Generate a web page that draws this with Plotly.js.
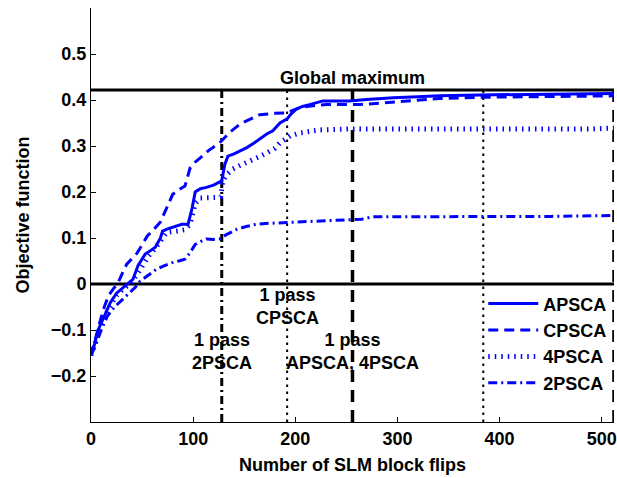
<!DOCTYPE html>
<html>
<head>
<meta charset="utf-8">
<script src="https://cdn.plot.ly/plotly-3.0.1.min.js"></script>
<style>html,body{margin:0;padding:0;background:#fff;}#chart{width:617px;height:478px;}</style>
</head>
<body>
<div id="chart"></div>
<script>
// ---- data ----
const apscaX = [0,3,7,12,19,25,30,36,41,46,50,53,58,63,68,70,75,82,89,95,99,102,107,113,120,126,128,131,134,140,146,153,160,166,172,178,185,192,196,201,207,214,221,227,240,253,270,296,320,341,380,420,460,512];
const apscaY = [-0.155,-0.135,-0.10,-0.075,-0.04,-0.02,-0.01,0.0,0.01,0.04,0.055,0.065,0.072,0.08,0.10,0.115,0.12,0.125,0.13,0.13,0.165,0.2,0.207,0.21,0.215,0.222,0.225,0.26,0.278,0.283,0.289,0.297,0.307,0.316,0.326,0.333,0.35,0.359,0.37,0.38,0.386,0.39,0.395,0.398,0.398,0.398,0.401,0.405,0.407,0.409,0.411,0.412,0.413,0.414];

const cpscaX = [0,4,9,13,17,22,26,30,35,40,45,50,55,62,68,72,76,80,86,92,97,102,107,115,126,136,146,155,165,180,192,198,204,215,231,263,290,315,341,381,440,512];
const cpscaY = [-0.155,-0.12,-0.08,-0.05,-0.026,-0.01,0.0,0.02,0.043,0.055,0.067,0.085,0.104,0.12,0.135,0.155,0.175,0.195,0.205,0.213,0.252,0.265,0.274,0.29,0.307,0.33,0.348,0.358,0.368,0.371,0.372,0.378,0.383,0.387,0.39,0.39,0.394,0.399,0.403,0.406,0.408,0.409];

const psca4X = [0,5,10,18,25,32,38,45,50,56,62,68,74,84,92,97,102,107,115,123,127,129,134,139,147,156,165,172,180,185,190,195,204,214,224,253,300,341,400,460,490,512];
const psca4Y = [-0.155,-0.125,-0.09,-0.05,-0.025,-0.01,0.0,0.02,0.04,0.06,0.075,0.095,0.112,0.115,0.118,0.13,0.175,0.187,0.187,0.188,0.19,0.225,0.24,0.25,0.259,0.267,0.277,0.285,0.295,0.307,0.315,0.322,0.328,0.332,0.335,0.337,0.337,0.337,0.336,0.336,0.337,0.339];

const psca2X = [0,5,10,16,23,30,36,43,48,54,59,64,72,79,86,92,97,102,108,113,120,126,133,138,143,152,162,175,185,200,230,253,265,276,296,384,450,512];
const psca2Y = [-0.155,-0.13,-0.10,-0.07,-0.05,-0.035,-0.023,-0.008,0.006,0.016,0.024,0.032,0.04,0.046,0.05,0.054,0.068,0.086,0.093,0.098,0.097,0.098,0.108,0.114,0.119,0.125,0.13,0.132,0.133,0.134,0.137,0.14,0.141,0.146,0.146,0.147,0.147,0.149];

const globalMax = 0.422;
const xSpan = [0, 512];
const ySpan = [-0.3, 0.6];
const passFlips = [128, 192, 256, 384, 512];
const passStyles = ['dashdot','dot','dash','dot','dash'];

const xTickVals = [0,100,200,300,400,500];
const yTickVals = [-0.2,-0.1,0,0.1,0.2,0.3,0.4,0.5];
const yTickText = ['\u22120.2','\u22120.1','0','0.1','0.2','0.3','0.4','0.5'];

const seriesNames = ['APSCA','CPSCA','4PSCA','2PSCA'];
// --------------------------------------

const FONT = 'Liberation Sans, Arial, Helvetica, sans-serif';
const BLUE = '#0000ff';

const dashMap = {
  dashdot: {dash: '8px,4px,2px,4px', width: 3},
  dot: {dash: '2.5px,4.5px', width: 2},
  dash: {dash: '12px,8px', width: 3.5}
};

const traces = [];
traces.push({x: xSpan, y: [globalMax, globalMax], mode: 'lines', line: {color: '#000', width: 3}, showlegend: false, hoverinfo: 'skip'});
traces.push({x: xSpan, y: [0, 0], mode: 'lines', line: {color: '#000', width: 3}, showlegend: false, hoverinfo: 'skip'});
passFlips.forEach((f, i) => {
  const st = dashMap[passStyles[i]];
  traces.push({x: [f, f], y: [ySpan[0], globalMax], mode: 'lines', line: {color: '#000', width: st.width, dash: st.dash}, showlegend: false, hoverinfo: 'skip'});
});

traces.push({x: apscaX, y: apscaY, name: seriesNames[0], mode: 'lines', line: {color: BLUE, width: 3}});
traces.push({x: cpscaX, y: cpscaY, name: seriesNames[1], mode: 'lines', line: {color: BLUE, width: 3, dash: '10px,6px'}});
traces.push({x: psca4X, y: psca4Y, name: seriesNames[2], mode: 'lines', line: {color: BLUE, width: 5, dash: '1.5px,5px'}});
traces.push({x: psca2X, y: psca2Y, name: seriesNames[3], mode: 'lines', line: {color: BLUE, width: 3, dash: '9px,4px,2px,4px'}});

const annFont = {family: FONT, size: 18, color: '#000', weight: 'bold'};
const layout = {
  width: 617, height: 478,
  margin: {l: 91, r: 3, t: 8, b: 56},
  paper_bgcolor: '#fff', plot_bgcolor: '#fff',
  font: {family: FONT, size: 18, color: '#000', weight: 'bold'},
  showlegend: true,
  legend: {x: 0.75, y: 0.33, xanchor: 'left', yanchor: 'top', bgcolor: 'rgba(0,0,0,0)', borderwidth: 0,
           font: {family: FONT, size: 18, color: '#000', weight: 'bold'}, itemwidth: 50, tracegroupgap: 0},
  xaxis: {range: xSpan, tickvals: xTickVals, ticks: 'inside', ticklen: 5, tickwidth: 1, tickcolor: '#000',
          showline: true, linecolor: '#000', linewidth: 1, showgrid: false, zeroline: false, mirror: false,
          tickfont: {family: FONT, size: 18, color: '#000', weight: 'bold'},
          title: {text: 'Number of SLM block flips', font: {family: FONT, size: 18, color: '#000', weight: 'bold'}, standoff: 10}},
  yaxis: {range: ySpan, tickvals: yTickVals, ticktext: yTickText, ticks: 'inside', ticklen: 5, tickwidth: 1, tickcolor: '#000',
          showline: true, linecolor: '#000', linewidth: 1, showgrid: false, zeroline: false, mirror: false,
          tickfont: {family: FONT, size: 18, color: '#000', weight: 'bold'},
          title: {text: 'Objective function', font: {family: FONT, size: 18, color: '#000', weight: 'bold'}, standoff: 16}},
  annotations: [
    {x: 256, y: 0.447, xref: 'x', yref: 'y', text: 'Global maximum', showarrow: false, font: annFont, xanchor: 'center', yanchor: 'middle'},
    {x: 192, y: -0.048, xref: 'x', yref: 'y', text: '1 pass<br>CPSCA', showarrow: false, font: annFont, xanchor: 'center', yanchor: 'middle'},
    {x: 128, y: -0.146, xref: 'x', yref: 'y', text: '1 pass<br>2PSCA', showarrow: false, font: annFont, xanchor: 'center', yanchor: 'middle'},
    {x: 256, y: -0.147, xref: 'x', yref: 'y', text: '1 pass<br>APSCA, 4PSCA', showarrow: false, font: annFont, xanchor: 'center', yanchor: 'middle'}
  ]
};

Plotly.newPlot('chart', traces, layout, {displayModeBar: false, staticPlot: true});
</script>
</body>
</html>
